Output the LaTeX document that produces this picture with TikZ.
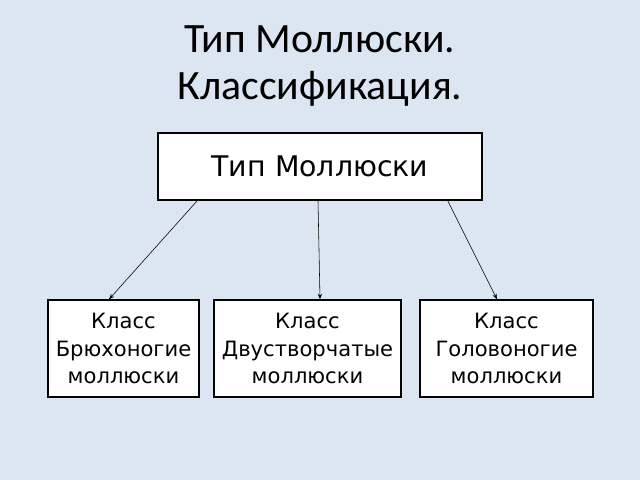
\documentclass[tikz,border=0pt]{standalone}
\usepackage{fontspec}
\setmainfont{DejaVu Sans}
\newfontfamily\titlefont{Carlito}
\usetikzlibrary{arrows.meta}
\definecolor{slidebg}{HTML}{DCE6F2}
\begin{document}
\begin{tikzpicture}[x=0.025cm, y=-0.025cm,
        topbox/.style={draw, fill=white, line width=0.9pt, minimum width=8.1cm, minimum height=1.675cm, inner sep=0pt, font=\fontsize{20.2}{24}\selectfont},
        classbox/.style={draw, fill=white, line width=0.9pt, minimum height=2.425cm, inner sep=0pt, align=center, font=\fontsize{15}{19.8}\selectfont},
        link/.style={-{Stealth[length=4pt, width=3pt]}, line width=0.4pt}]
            \fill[slidebg] (0,0) rectangle (640,480);
            \useasboundingbox (0,0) rectangle (640,480);
            \node[align=center, font=\titlefont\fontsize{29.7}{32.8}\selectfont] (title) at (320,66) {Тип Моллюски.\\Классификация.};
            \node[topbox] (phylum) at (320,166.5) {Тип Моллюски};
            \node[classbox, minimum width=3.775cm] (gastro) at (123.5,348.5) {Класс\\Брюхоногие\\моллюски};
            \node[classbox, minimum width=4.675cm] (bivalv) at (307.5,348.5) {Класс\\Двустворчатые\\моллюски};
            \node[classbox, minimum width=4.325cm] (cephal) at (506.5,348.5) {Класс\\Головоногие\\моллюски};
            \draw[link] (phylum.south west) ++(40,0) -- (gastro.north -| 109,0);
            \draw[link] (phylum.south) ++(-2,0) -- (bivalv.north -| 320,0);
            \draw[link] (phylum.south east) ++(-35,0) -- (cephal.north -| 497,0);
        \end{tikzpicture}
\end{document}
